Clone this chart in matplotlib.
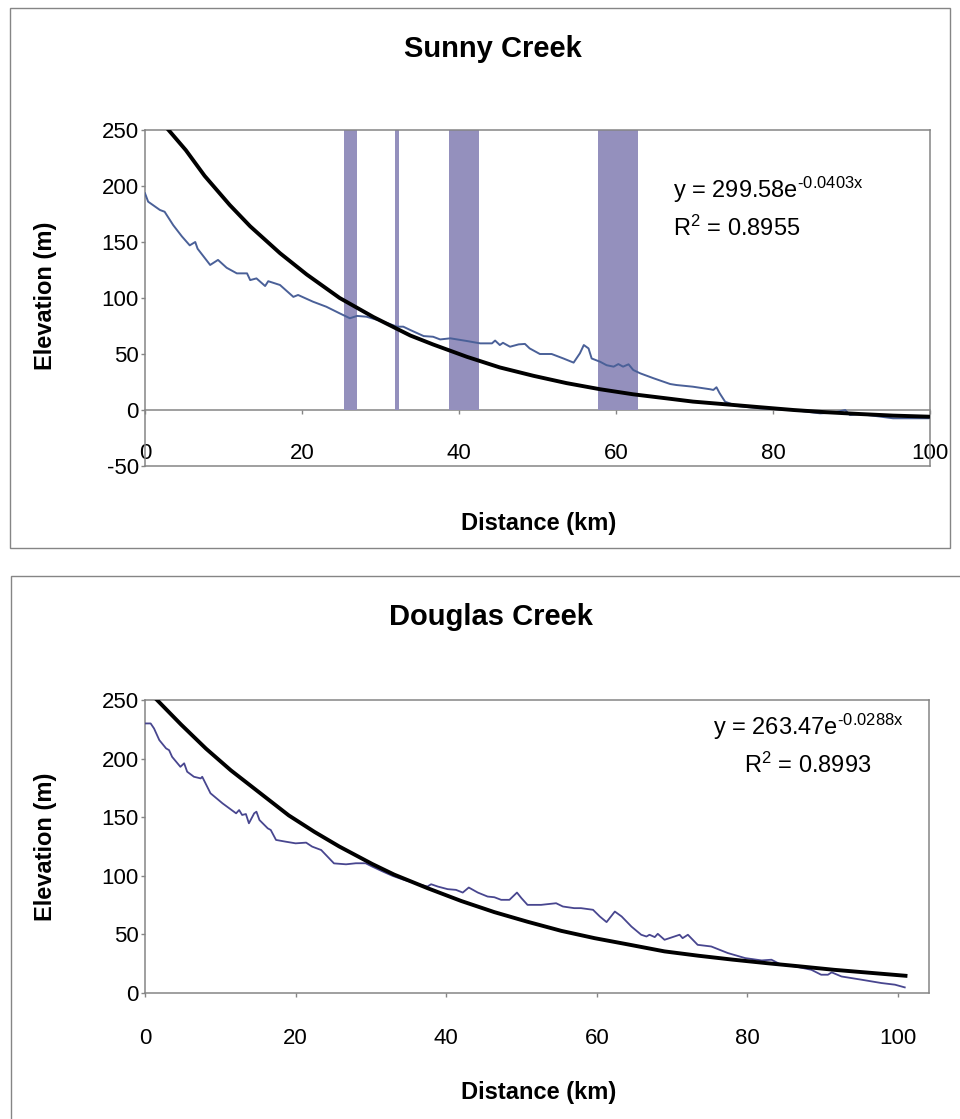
import matplotlib
matplotlib.use('Agg')
import matplotlib.pyplot as plt
from matplotlib.patches import Rectangle

plt.rcParams['font.family'] = ['Liberation Sans', 'DejaVu Sans']
plt.rcParams['mathtext.fontset'] = 'custom'
plt.rcParams['mathtext.rm'] = 'Liberation Sans'
plt.rcParams['mathtext.it'] = 'Liberation Sans'
plt.rcParams['axes.unicode_minus'] = False

# Sunny Creek long profile (km, m)
sunny_km = [0, 0.4, 1.9, 2.5, 3.6, 4.7, 5.7, 6.4, 6.7, 8.3, 9.3, 10.4, 11.7, 13.0, 13.4,
            14.2, 15.3, 15.7, 17.2, 18.9, 19.5, 21.4, 23.1, 24.8, 26.1, 27.0, 28.2, 30.4,
            32.1, 32.9, 33.8, 35.5, 36.7, 37.6, 38.9, 41.0, 42.7, 44.2, 44.6, 45.2, 45.6,
            46.5, 47.6, 48.4, 49.0, 50.3, 51.8, 53.3, 54.6, 55.4, 55.9, 56.5, 56.9, 58.0,
            58.8, 59.7, 60.3, 60.9, 61.6, 62.2, 63.1, 64.8, 66.9, 67.7, 69.8, 72.0, 72.4,
            72.8, 73.2, 73.9, 75.4, 78.3, 82.6, 86.0, 87.7, 89.2, 89.8, 91.1, 95.3, 99.8]
sunny_elev = [193.5, 186, 178.6, 177, 165, 155, 147, 150, 144, 129.5, 134, 127, 122, 122, 116,
              117.5, 110.7, 115, 111.6, 101, 102.7, 96.7, 92.2, 86.3, 81.9, 84, 83.3, 78.8,
              74.4, 74.4, 71.4, 66, 65.4, 63, 64, 61.6, 59.5, 59.5, 62, 58, 60,
              56.5, 58.6, 59, 55, 50, 50, 46, 42.3, 50.6, 58, 55, 46, 43,
              40, 38.7, 41, 38.7, 40.8, 35.7, 32.7, 28.3, 23.2, 22.3, 20.8, 18.5, 17.9,
              20.3, 15, 7.4, 3.6, 1.5, 0, -3, -2.4, 0, -4.5, -3.6, -7.4, -7.4]
sunny_fit_km = [3, 5.2, 7.6, 10.8, 13.4, 17.2, 20.6, 24.8, 29.1, 33.8, 36.7, 41, 45.2, 49.5,
                53.7, 58, 62.2, 66.9, 69.8, 74.1, 78.3, 82.6, 86.8, 91.1, 95.3, 100]
sunny_fit_m = [250, 232, 209, 183, 164, 140, 121, 100, 83, 66.5, 58.5, 47.5, 38, 30.5,
               24, 18.5, 14, 10, 7.5, 5, 2.5, 0, -2, -3.6, -5, -6]
# highlighted reaches
reach_start = [25.3, 31.8, 38.7, 57.7]
reach_end = [27.0, 32.4, 42.6, 62.8]
reach_top = [250, 250, 250, 250]

# Douglas Creek long profile
douglas_km = [0, 0.75, 1.2, 1.9, 2.8, 3.2, 3.6, 4.7, 5.2, 5.6, 6.5, 7.4, 7.6, 8.7, 10.3, 12.1,
              12.5, 12.9, 13.4, 13.8, 14.5, 14.8, 15.2, 16.3, 16.7, 17.4, 18.7, 20.0, 21.4,
              22.2, 23.4, 25.1, 26.7, 28.0, 29.3, 30.2, 31.6, 32.9, 34.4, 36.0, 37.5, 38.0,
              38.9, 40.2, 41.3, 42.2, 43.0, 44.2, 45.5, 46.4, 47.3, 48.4, 49.4, 50.0, 50.8,
              52.6, 54.6, 55.5, 57.0, 57.9, 59.5, 60.4, 61.3, 62.4, 63.3, 64.6, 65.9, 66.6,
              67.0, 67.7, 68.1, 69.0, 71.0, 71.4, 72.1, 73.4, 75.2, 77.4, 79.7, 81.9, 83.2,
              84.5, 86.3, 88.5, 89.8, 90.7, 91.2, 92.5, 95.2, 97.8, 99.6, 100.9]
douglas_elev = [230, 230, 225.7, 215.8, 208.7, 207.2, 201.5, 193, 196, 188.8, 184.5, 183.1,
                184.5, 170.4, 161.8, 153.3, 156.1, 151.9, 152.7, 144.8, 153.3, 154.7, 147.6,
                140.5, 139.1, 130.6, 129.1, 127.7, 128.3, 124.9, 122, 110.6, 109.8, 110.7,
                110.7, 107.8, 103.6, 99.9, 96.5, 93.5, 90.8, 92.8, 90.8, 88.6, 88, 85.7, 90,
                85.7, 82.3, 81.7, 79.5, 79.5, 85.7, 80.9, 75.2, 75.2, 76.6, 73.8, 72.4, 72.4,
                71, 65.3, 60.5, 69.5, 65.3, 56.7, 49.7, 48.2, 49.7, 47.7, 50.5, 45.4, 49.7,
                46.8, 49.7, 41.1, 39.7, 34.1, 29.8, 27.8, 28.4, 24.1, 22.7, 19.8, 15.6, 15.6,
                17.6, 14.1, 11.3, 8.5, 7.1, 4.8]
douglas_fit_km = [1.6, 4.8, 8.1, 11.4, 14.7, 19.1, 22.5, 25.8, 30.2, 33.1, 37.5, 42, 46.4,
                  50.8, 55.3, 59.7, 64.1, 69, 73.5, 78, 82.5, 87, 91.5, 95.8, 101]
douglas_fit_m = [250, 229, 208.5, 190, 173.5, 151.5, 137.5, 125, 110, 101, 89.5, 78.5, 69,
                 60.8, 53, 46.8, 41.5, 35.5, 31.8, 28.5, 25.5, 22.7, 19.8, 17.5, 14.7]

GRAY = '#858585'
W, H = 960, 1119


def fx(px):
    return px / W


def fy(py):
    return 1 - py / H


fig = plt.figure(figsize=(9.6, 11.19), dpi=100)

# panel frames
fig.patches.append(Rectangle((fx(10), fy(548)), fx(940), 540 / H, transform=fig.transFigure,
                             fill=False, edgecolor=GRAY, linewidth=1))
fig.patches.append(Rectangle((fx(11), fy(1130)), fx(960), 554 / H, transform=fig.transFigure,
                             fill=False, edgecolor=GRAY, linewidth=1))


def style_axes(ax):
    for s in ax.spines.values():
        s.set_color(GRAY)
        s.set_linewidth(1.1)
    ax.tick_params(axis='y', direction='out', length=3, width=1, color=GRAY,
                   pad=1.5, labelsize=16)


# ---- Sunny Creek ----
ax1 = fig.add_axes([fx(145), fy(466), 785 / W, 336 / H])
ax1.bar(reach_start, reach_top, width=[e - s for s, e in zip(reach_start, reach_end)],
        align='edge', color='#9490bd', zorder=1)
ax1.plot(sunny_km, sunny_elev, color='#4a6098', linewidth=1.4, zorder=3)
ax1.plot(sunny_fit_km, sunny_fit_m, color='black', linewidth=2.8, zorder=4,
         solid_joinstyle='round')
ax1.set_xlim(0, 100)
ax1.set_ylim(-50, 250)
ax1.set_yticks(range(-50, 251, 50))
ax1.set_xticks([])
style_axes(ax1)
sec = ax1.secondary_xaxis(1 / 6)
sec.set_xticks(range(0, 101, 20))
sec.tick_params(direction='out', length=3, width=1, color=GRAY, pad=21, labelsize=16)
sec.spines['bottom'].set_color(GRAY)
sec.spines['bottom'].set_linewidth(1.1)
ax1.set_xlabel('Distance (km)', fontsize=17, fontweight='bold')
ax1.xaxis.set_label_coords((539 - 145) / 785, (466 - 512) / 336)
ax1.set_ylabel('Elevation (m)', fontsize=17, fontweight='bold')
ax1.yaxis.set_label_coords((57 - 145) / 785, (466 - 296) / 336)
ax1.text(fx(673), fy(190), r'y = 299.58e$^{\text{-0.0403x}}$', transform=fig.transFigure,
         fontsize=17, va='center', ha='left')
ax1.text(fx(673), fy(228), r'R$^{2}$ = 0.8955', transform=fig.transFigure,
         fontsize=17, va='center', ha='left')
fig.text(fx(493), fy(49), 'Sunny Creek', fontsize=21, fontweight='bold', ha='center', va='center')

# ---- Douglas Creek ----
ax2 = fig.add_axes([fx(145), fy(993), 784 / W, 293 / H])
ax2.plot(douglas_km, douglas_elev, color='#48468f', linewidth=1.3, zorder=3)
ax2.plot(douglas_fit_km, douglas_fit_m, color='black', linewidth=2.8, zorder=4,
         solid_joinstyle='round')
ax2.set_xlim(0, (929 - 146) / 7.52)
ax2.set_ylim(0, 250)
ax2.set_yticks(range(0, 251, 50))
ax2.set_xticks(range(0, 101, 20))
style_axes(ax2)
ax2.tick_params(axis='x', direction='out', length=3, width=1, color=GRAY, pad=22, labelsize=16)
ax2.set_xlabel('Distance (km)', fontsize=17, fontweight='bold')
ax2.xaxis.set_label_coords((539 - 145) / 784, (993 - 1081) / 293)
ax2.set_ylabel('Elevation (m)', fontsize=17, fontweight='bold')
ax2.yaxis.set_label_coords((57 - 145) / 784, (993 - 847) / 293)
ax2.text(fx(808), fy(727), r'y = 263.47e$^{\text{-0.0288x}}$', transform=fig.transFigure,
         fontsize=17, va='center', ha='center')
ax2.text(fx(808), fy(765), r'R$^{2}$ = 0.8993', transform=fig.transFigure,
         fontsize=17, va='center', ha='center')
fig.text(fx(491), fy(617), 'Douglas Creek', fontsize=21, fontweight='bold', ha='center', va='center')

fig.savefig('out.png', dpi=100)
